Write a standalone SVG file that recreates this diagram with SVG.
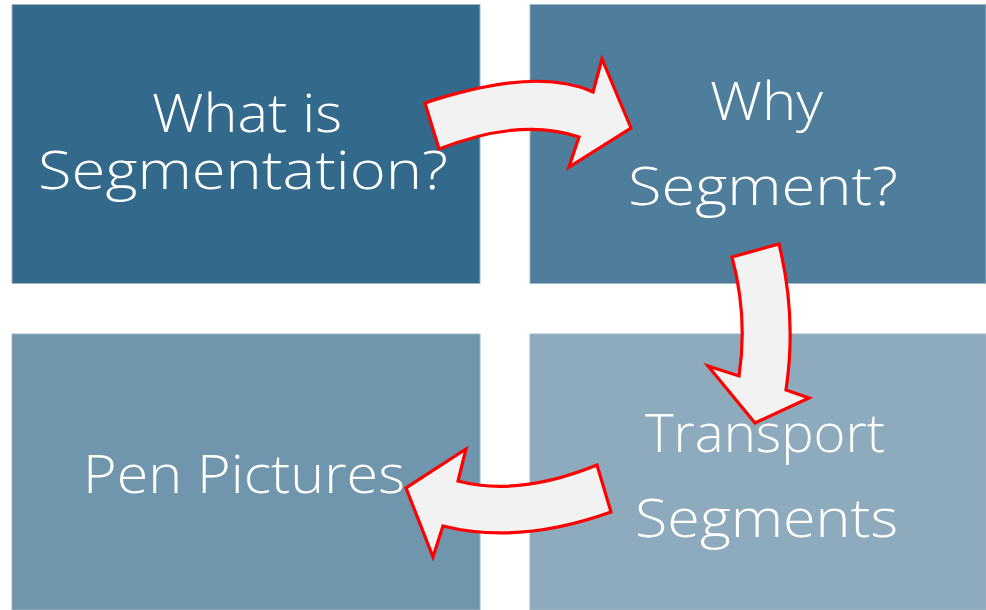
<svg xmlns="http://www.w3.org/2000/svg" width="986" height="610" viewBox="0 0 986 610">
  <style>
    .tile { stroke: #9fb6c6; stroke-width: 1; }
    .label { fill: #ffffff; font-family: "Open Sans", "DejaVu Sans", sans-serif; font-weight: 300; font-size: 53px; text-anchor: start; }
    .arrow { fill: #f2f2f2; stroke: #ff0000; stroke-width: 3.2; stroke-linejoin: miter; }
  </style>
  <rect width="986" height="610" fill="#ffffff"/>

  <g id="node-what">
    <rect class="tile" x="12" y="4.5" width="468" height="279" fill="#33698a"/>
    <text class="label"><tspan x="152" y="132" textLength="190" lengthAdjust="spacingAndGlyphs">What is</tspan><tspan x="38" y="189" textLength="410" lengthAdjust="spacingAndGlyphs">Segmentation?</tspan></text>
  </g>

  <g id="node-why">
    <rect class="tile" x="530" y="4.5" width="456" height="279" fill="#4e7e9b"/>
    <text class="label"><tspan x="710" y="120" textLength="113" lengthAdjust="spacingAndGlyphs">Why</tspan><tspan x="628" y="205" textLength="270" lengthAdjust="spacingAndGlyphs">Segment?</tspan></text>
  </g>

  <g id="node-pen">
    <rect class="tile" x="12" y="334" width="468" height="276" fill="#6f96ad"/>
    <text class="label" x="83" y="493" textLength="322" lengthAdjust="spacingAndGlyphs">Pen Pictures</text>
  </g>

  <g id="node-transport">
    <rect class="tile" x="530" y="334" width="456" height="276" fill="#8eaabd"/>
    <text class="label"><tspan x="645" y="452" textLength="240" lengthAdjust="spacingAndGlyphs">Transport</tspan><tspan x="635" y="537" textLength="263" lengthAdjust="spacingAndGlyphs">Segments</tspan></text>
  </g>

  <g id="connectors">
    <path class="arrow" d="M425,103 Q537,66 593,92 L602,59 L631,128 L569,167 L579,137 Q521,117 439,149 Z"/>
    <path class="arrow" d="M732,257 L779,244 Q797,317 786,390 L809,398 L755,423 L708,366 L739,376 Q748,317 732,257 Z"/>
    <path class="arrow" d="M597,465 L611,512 Q519,545 443,526 L433,557 L406,488 L466,449 L458,481 Q518,497 597,465 Z"/>
  </g>
</svg>
